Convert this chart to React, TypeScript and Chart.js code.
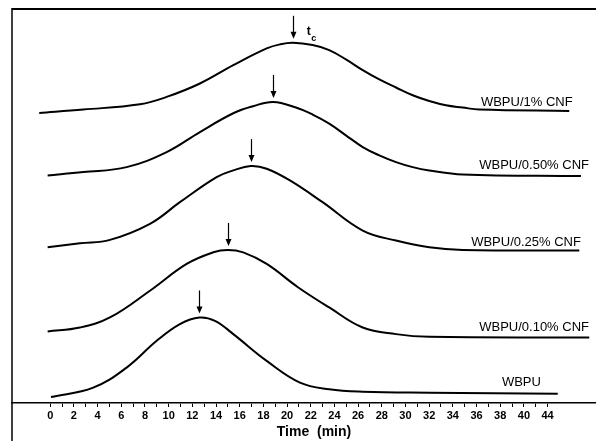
import React, { useEffect, useRef } from 'react';
import { Chart, registerables } from 'chart.js';

Chart.register(...registerables);

// ---- Data ----
const tickPositions: number[] = [0, 2, 4, 6, 8, 10, 12, 14, 16, 18, 20, 22, 24, 26, 28, 30, 32, 34, 36, 38, 40, 42];
const tickLabels: string[] = ['0', '2', '4', '6', '8', '10', '12', '14', '16', '18', '20', '22', '24', '26', '28', '30', '32', '34', '36', '38', '40', '44'];

const seriesNames: string[] = ['WBPU/1% CNF', 'WBPU/0.50% CNF', 'WBPU/0.25% CNF', 'WBPU/0.10% CNF', 'WBPU'];

const time1: number[] = [-0.93, 2.79, 7.58, 9.83, 12.64, 15.46, 18.28, 19.4, 20.5, 22.16, 23.56, 24.97, 26.39, 27.79, 29.2, 30.61, 32.01, 33.42, 34.83, 36.23, 43.83];
const cnf1: number[] = [289.3, 292.7, 298, 305.3, 318.7, 337, 353.7, 357.7, 359.3, 357, 352, 342.7, 332, 322.7, 314.7, 307, 301.3, 297, 294.7, 292.7, 291.3];

const time050: number[] = [-0.22, 2.79, 6.45, 9.83, 12.64, 15.46, 17.12, 18.83, 20.75, 22.16, 23.56, 24.97, 26.39, 27.79, 29.2, 30.61, 32.01, 34.83, 44.82];
const cnf050: number[] = [227, 230.3, 235.3, 250.3, 270.3, 289, 296, 300.3, 294.7, 287.7, 278.7, 267, 255.3, 247, 240.3, 235.3, 232, 228, 226.3];

const time025: number[] = [-0.22, 2.51, 5.04, 8.42, 10.95, 14.05, 15.46, 16.93, 18.28, 20.24, 23.0, 26.39, 29.2, 32.01, 34.83, 44.68];
const cnf025: number[] = [155.3, 159.3, 162.7, 178.7, 200.3, 225.3, 232, 236.3, 233.7, 222, 200.3, 172, 162, 155.3, 152.7, 152];

const time010: number[] = [-0.22, 2.51, 5.04, 8.42, 11.52, 13.77, 14.98, 16.3, 18.28, 20.92, 23.56, 26.39, 29.2, 32.01, 45.52];
const cnf010: number[] = [71.3, 75.3, 85.3, 112, 138.7, 150.3, 152.7, 150.3, 138.7, 115.5, 95.3, 75.3, 68.7, 66, 65.3];

const time0: number[] = [0.06, 3.63, 6.45, 8.99, 10.95, 12.6, 13.91, 15.46, 18.28, 21.09, 23.56, 26.39, 32.01, 42.86];
const wbpu: number[] = [6, 15.3, 35.3, 62, 78.7, 85.3, 82, 68.7, 42, 20.3, 13.7, 11.3, 10.3, 9.3];

// crystallization time (t_c) peaks
const peakTimes: number[] = [20.47, 18.83, 16.93, 14.98, 12.6];
const peakValues: number[] = [359.3, 300.3, 236.3, 152.7, 85.3];

// label anchors (right edge, middle) in data units
const labelTimes: number[] = [44.12, 45.5, 44.82, 45.5, 41.44];
const labelValues: number[] = [300.3, 236.7, 160.3, 75.3, 20.3];

const FONT = '"Liberation Sans", Arial, sans-serif';

const toPoints = (xs: number[], ys: number[]) => xs.map((x, i) => ({ x, y: ys[i] }));

const annotPlugin = {
  id: 'annot',
  afterDatasetsDraw(chart: any) {
    const { ctx, scales } = chart;
    const x = scales.x;
    const y = scales.y;
    ctx.save();
    ctx.strokeStyle = '#000';
    ctx.fillStyle = '#000';
    // arrows
    peakTimes.forEach((t, i) => {
      const px = Math.round(x.getPixelForValue(t)) + 0.5;
      const tip = y.getPixelForValue(peakValues[i]) - 4;
      ctx.lineWidth = 1.2;
      ctx.beginPath();
      ctx.moveTo(px, tip - 23);
      ctx.lineTo(px, tip - 5);
      ctx.stroke();
      ctx.beginPath();
      ctx.moveTo(px, tip);
      ctx.lineTo(px - 3, tip - 7);
      ctx.lineTo(px + 3, tip - 7);
      ctx.closePath();
      ctx.fill();
    });
    // series labels
    ctx.font = `13px ${FONT}`;
    ctx.textAlign = 'right';
    ctx.textBaseline = 'middle';
    seriesNames.forEach((name, i) => {
      ctx.fillText(name, x.getPixelForValue(labelTimes[i]), y.getPixelForValue(labelValues[i]));
    });
    // t_c label
    const tx = x.getPixelForValue(peakTimes[0]) + 14;
    const ty = y.getPixelForValue(peakValues[0]) - 11;
    ctx.textAlign = 'left';
    ctx.font = `bold 12px ${FONT}`;
    ctx.fillText('t', tx, ty);
    ctx.font = `bold 9px ${FONT}`;
    ctx.fillText('c', tx + 4.5, ty + 7);
    ctx.restore();
  },
  afterDraw(chart: any) {
    const { ctx, chartArea, width, height } = chart;
    ctx.save();
    ctx.strokeStyle = '#000';
    ctx.lineWidth = 2;
    ctx.beginPath();
    ctx.moveTo(chartArea.left, chartArea.top);
    ctx.lineTo(width, chartArea.top);
    ctx.stroke();
    ctx.lineWidth = 1.5;
    ctx.beginPath();
    ctx.moveTo(chartArea.left, chartArea.top - 1);
    ctx.lineTo(chartArea.left, height);
    ctx.stroke();
    ctx.restore();
  },
};

export default function App() {
  const canvasRef = useRef<HTMLCanvasElement | null>(null);

  useEffect(() => {
    if (!canvasRef.current) return;
    const series = [
      toPoints(time1, cnf1),
      toPoints(time050, cnf050),
      toPoints(time025, cnf025),
      toPoints(time010, cnf010),
      toPoints(time0, wbpu),
    ];
    const chart = new Chart(canvasRef.current, {
      type: 'line',
      data: {
        datasets: series.map((pts, i) => ({
          label: seriesNames[i],
          data: pts,
          borderColor: '#000',
          borderWidth: 2,
          pointRadius: 0,
          fill: false,
          tension: 0.4,
        })),
      },
      options: {
        animation: false,
        responsive: false,
        layout: { padding: { top: 9, left: 12, right: 4, bottom: 0 } },
        plugins: { legend: { display: false }, tooltip: { enabled: false } },
        scales: {
          x: {
            type: 'linear',
            min: -3.23,
            max: 47.78,
            afterBuildTicks: (scale: any) => {
              const ticks: { value: number }[] = [];
              for (let v = tickPositions[0]; v <= tickPositions[tickPositions.length - 1]; v += 1) ticks.push({ value: v });
              scale.ticks = ticks;
            },
            ticks: {
              autoSkip: false,
              maxRotation: 0,
              padding: 2,
              color: '#000',
              font: { family: FONT, size: 11, weight: 'bold' },
              callback: (value: any) => {
                const idx = tickPositions.indexOf(Number(value));
                return idx >= 0 ? tickLabels[idx] : '';
              },
            },
            grid: { drawOnChartArea: false, drawTicks: true, tickLength: 4, color: '#000', lineWidth: 1 },
            border: { display: true, color: '#000', width: 1.5 },
            title: {
              display: true,
              text: 'Time  (min)',
              color: '#000',
              font: { family: FONT, size: 14, weight: 'bold' },
              padding: { top: 0, bottom: 0 },
            },
          },
          y: {
            type: 'linear',
            display: false,
            min: 0,
            max: 393,
          },
        },
      },
      plugins: [annotPlugin],
    } as any);
    return () => chart.destroy();
  }, []);

  return (
    <div style={{ position: 'absolute', left: 0, top: 0, width: 596, height: 441, overflow: 'hidden', background: '#fff' }}>
      <canvas ref={canvasRef} width={620} height={441} style={{ display: 'block' }} />
    </div>
  );
}
